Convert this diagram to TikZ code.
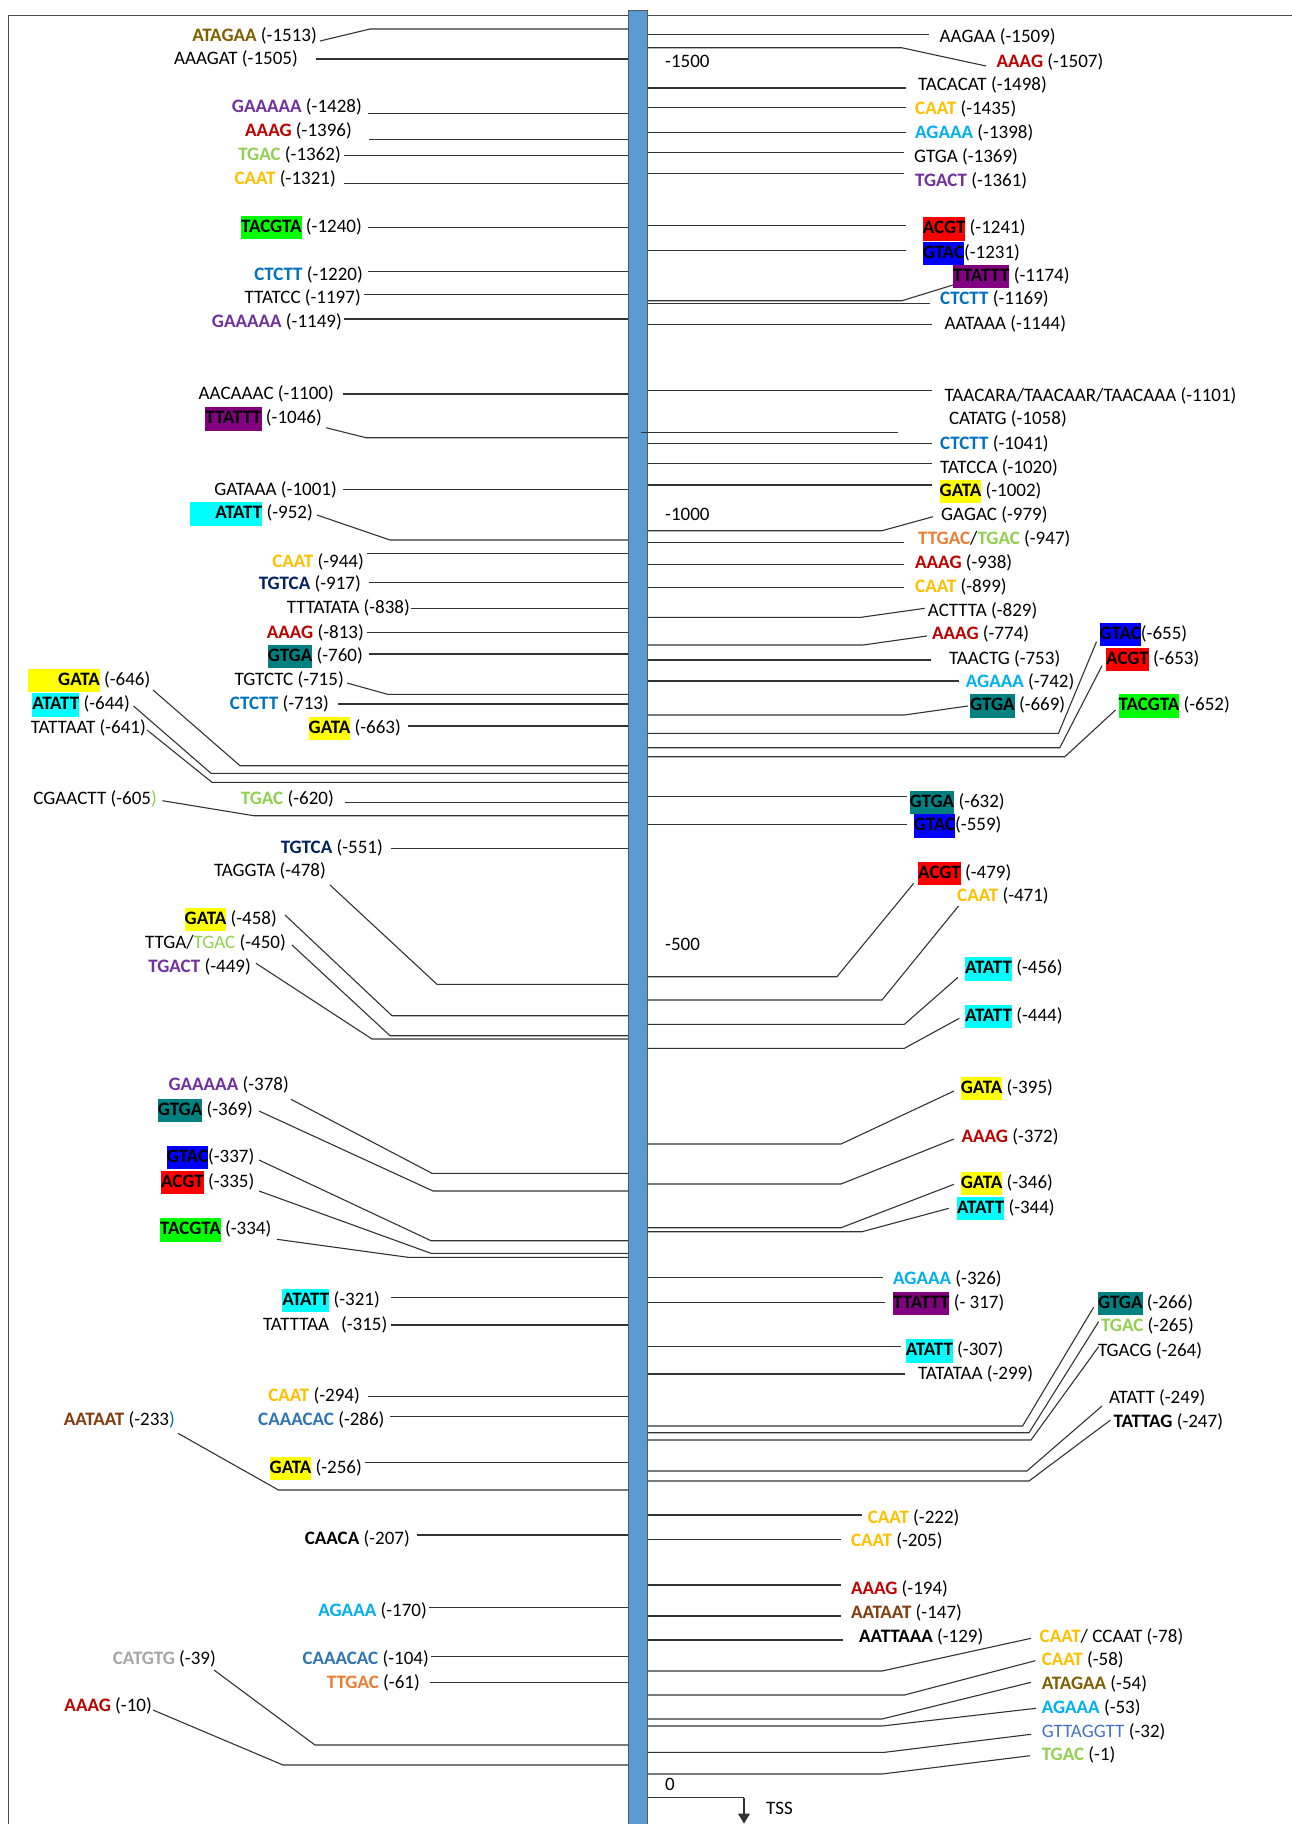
\documentclass[tikz,border=0pt]{standalone}
\usepackage{fontspec}
\setmainfont{Carlito}
\usetikzlibrary{arrows.meta}
\definecolor{cOlive}{RGB}{127,96,0}
\definecolor{cPurp}{RGB}{112,48,160}
\definecolor{cRed}{RGB}{192,0,0}
\definecolor{cLGreen}{RGB}{146,208,80}
\definecolor{cGold}{RGB}{255,192,0}
\definecolor{cBlue}{RGB}{0,112,192}
\definecolor{cNavy}{RGB}{0,32,96}
\definecolor{cLBlue}{RGB}{0,176,240}
\definecolor{cOrange}{RGB}{237,125,49}
\definecolor{cGray}{RGB}{166,166,166}
\definecolor{cBlueTwo}{RGB}{46,117,182}
\definecolor{cBrown}{RGB}{132,60,12}
\definecolor{cCorn}{RGB}{68,114,196}
\definecolor{hGreen}{RGB}{0,255,0}
\definecolor{hRed}{RGB}{255,0,0}
\definecolor{hBlue}{RGB}{0,0,255}
\definecolor{hPurple}{RGB}{128,0,128}
\definecolor{hTeal}{RGB}{0,128,128}
\definecolor{hYellow}{RGB}{255,255,0}
\definecolor{hCyan}{RGB}{0,255,255}
\definecolor{barBlue}{RGB}{91,155,213}
\newcommand\mot[2]{\textcolor{#1}{\textbf{#2}}}
\newcommand\hlbox[2]{{\setlength{\fboxsep}{0pt}\colorbox{#1}{\strut\textbf{#2}}}}
\newcommand\lblS[6]{\node[lab,anchor=east] (#1) at (#2,#3) {#4};
  \coordinate (#1s) at (#5,#6);
  \draw[conn] (#1s) -- (#1s -| bar.west);}
\newcommand\lblL[8]{\node[lab,anchor=east] (#1) at (#2,#3) {#4};
  \coordinate (#1s) at (#5,#6); \coordinate (#1b) at (#7,#8);
  \draw[conn] (#1s) -- (#1b) -- (#1b -| bar.west);}
\newcommand\rblS[6]{\node[lab,anchor=west] (#1) at (#2,#3) {#4};
  \coordinate (#1s) at (#5,#6);
  \draw[conn] (#1s -| bar.east) -- (#1s);}
\newcommand\rblL[8]{\node[lab,anchor=west] (#1) at (#2,#3) {#4};
  \coordinate (#1s) at (#5,#6); \coordinate (#1b) at (#7,#8);
  \draw[conn] (#1b -| bar.east) -- (#1b) -- (#1s);}
\begin{document}
\begin{tikzpicture}[x=1pt,y=-1pt,
  lab/.style={inner sep=0pt, font=\fontsize{19}{23.5}\selectfont, execute at begin node=\strut},
  conn/.style={draw=black!80, line width=1.1pt},
  frame/.style={draw=gray!60!black, line width=1pt}]
\useasboundingbox (0,0) rectangle (1292,1824);
\fill[white] (0,0) rectangle (1292,1824);
\draw[frame] (8,1824) -- (8,15) -- (1292,15);
\node[draw=gray!70!black, line width=0.8pt, fill=barBlue, minimum width=19pt, minimum height=1814pt, inner sep=0pt, anchor=north west] (bar) at (628,10) {};
% scale labels
\node[lab,anchor=west] (s1500) at (665,62.7) {-1500};
\node[lab,anchor=west] (s1000) at (665,516) {-1000};
\node[lab,anchor=west] (s500) at (665,945.7) {-500};
\node[lab,anchor=west] (s0) at (665,1786) {0};
% left side
\lblL{L1}{317}{36.7}{\mot{cOlive}{ATAGAA} (-1513)}{320}{41}{370}{29}
\lblS{L2}{298}{60}{AAAGAT (-1505)}{316}{59}
\lblS{L3}{362}{108}{\mot{cPurp}{GAAAAA} (-1428)}{368}{113.7}
\lblS{L4}{352}{132}{\mot{cRed}{AAAG} (-1396)}{369}{139.3}
\lblS{L5}{341}{156}{\mot{cLGreen}{TGAC} (-1362)}{344}{155.7}
\lblS{L6}{336}{180}{\mot{cGold}{CAAT} (-1321)}{344}{183.3}
\lblS{L7}{362}{227.7}{\hlbox{hGreen}{TACGTA} (-1240)}{368}{227.7}
\lblS{L8}{363}{276}{\mot{cBlue}{CTCTT} (-1220)}{368}{271.3}
\lblS{L9}{361}{299}{TTATCC (-1197)}{364}{294.7}
\lblS{L10}{342}{322.7}{\mot{cPurp}{GAAAAA} (-1149)}{344}{319}
\lblS{L11}{334}{394.7}{AACAAAC (-1100)}{343}{394}
\lblL{L12}{322}{419}{\hlbox{hPurple}{TTATTT} (-1046)}{326}{427.7}{366}{437.7}
\lblS{L13}{337}{490.7}{GATAAA (-1001)}{343}{489.3}
\lblL{L14}{313}{514}{\hlbox{hCyan}{\hspace{25pt}ATATT} (-952)}{317}{515}{390}{540}
\lblS{L15}{364}{562.3}{\mot{cGold}{CAAT} (-944)}{367}{553.3}
\lblS{L16}{361}{585}{\mot{cNavy}{TGTCA} (-917)}{369}{582.7}
\lblS{L17}{410}{609}{TTTATATA (-838)}{411}{608.3}
\lblS{L18}{364}{633.3}{\mot{cRed}{AAAG} (-813)}{367}{632.3}
\lblS{L19}{363}{656.7}{\hlbox{hTeal}{GTGA} (-760)}{369}{654}
\lblL{L20}{344}{680.7}{TGTCTC (-715)}{347}{683}{387.6}{694.3}
\lblS{L21}{329}{705}{\mot{cBlue}{CTCTT} (-713)}{338}{704}
\lblS{L22}{401}{728.3}{\hlbox{hYellow}{GATA} (-663)}{408}{726}
\lblL{L23}{150.5}{680.7}{\hlbox{hYellow}{\hspace{30pt}GATA} (-646)}{153}{690}{240}{765.7}
\lblL{L24}{130}{705}{\hlbox{hCyan}{ATATT} (-644)}{133.5}{706}{211}{773.3}
\lblL{L25}{146}{729}{TATTAAT (-641)}{147}{730}{212}{782.3}
\lblL{L26}{157}{800}{CGAACTT (-605\textcolor{cLGreen}{)}}{162.5}{800.7}{253.7}{815.7}
\lblS{L27}{334}{800}{\mot{cLGreen}{TGAC} (-620)}{345}{802.7}
\lblS{L28}{383}{848.3}{\mot{cNavy}{TGTCA} (-551)}{391}{848.3}
\lblL{L29}{326}{871.7}{TAGGTA (-478)}{330}{885}{437}{984.3}
\lblL{L30}{277}{919.3}{\hlbox{hYellow}{GATA} (-458)}{285}{915}{392}{1015.7}
\lblL{L31}{286}{943.3}{TTGA/\textcolor{cLGreen}{TGAC} (-450)}{292}{945}{390}{1035.7}
\lblL{L32}{251}{967.7}{\mot{cPurp}{TGACT} (-449)}{256}{963.3}{372}{1039}
\lblL{L33}{289}{1086}{\mot{cPurp}{GAAAAA} (-378)}{291}{1099.3}{432}{1173.3}
\lblL{L34}{253}{1110.7}{\hlbox{hTeal}{GTGA} (-369)}{259}{1111}{433}{1191}
\lblL{L35}{254.5}{1157.7}{\hlbox{hBlue}{GTAC}(-337)}{259}{1160}{431}{1240.7}
\lblL{L36}{254.5}{1182.3}{\hlbox{hRed}{ACGT} (-335)}{259}{1191}{431}{1253.3}
\lblL{L37}{271.5}{1230}{\hlbox{hGreen}{TACGTA} (-334)}{277}{1239.3}{408}{1257.3}
\lblS{L38}{380}{1300.7}{\hlbox{hCyan}{ATATT} (-321)}{391}{1297.7}
\lblS{L39}{387.6}{1325.7}{TATTTAA\hspace{12pt}(-315)}{391}{1325}
\lblS{L40}{360}{1396.7}{\mot{cGold}{CAAT} (-294)}{367.7}{1396.7}
\lblS{L41}{384.7}{1420.7}{\mot{cBlueTwo}{CAAACAC} (-286)}{389.6}{1416.7}
\lblL{L42}{175}{1420.7}{\mot{cBrown}{AATAAT} (-233\textcolor{cBlue}{)}}{178}{1433.3}{278.5}{1490}
\lblS{L43}{362}{1468.3}{\hlbox{hYellow}{GATA} (-256)}{364.8}{1462.7}
\lblS{L44}{410}{1540}{\textbf{CAACA} (-207)}{416.6}{1535}
\lblS{L45}{427}{1611.7}{\mot{cLBlue}{AGAAA} (-170)}{429}{1607.3}
\lblS{L46}{429}{1660}{\mot{cBlueTwo}{CAAACAC} (-104)}{431}{1656.7}
\lblS{L47}{420}{1683.3}{\mot{cOrange}{TTGAC} (-61)}{430}{1682.3}
\lblL{L48}{216}{1660}{\mot{cGray}{CATGTG} (-39)}{214}{1670}{315}{1745}
\lblL{L49}{152}{1706.7}{\mot{cRed}{AAAG} (-10)}{153}{1710}{283}{1765}
% right side
\rblS{R1}{939.5}{37.3}{AAGAA (-1509)}{928.5}{34.3}
\rblL{R2}{996.5}{62.3}{\mot{cRed}{AAAG} (-1507)}{986}{66}{901.5}{47.7}
\rblS{R3}{918}{86}{TACACAT (-1498)}{905.7}{88}
\rblS{R4}{915}{110}{\mot{cGold}{CAAT} (-1435)}{905.7}{107.7}
\rblS{R5}{915}{134}{\mot{cLBlue}{AGAAA} (-1398)}{905.7}{132.3}
\rblS{R6}{914}{157.3}{GTGA (-1369)}{904.4}{152.3}
\rblS{R7}{915}{181.7}{\mot{cPurp}{TGACT} (-1361)}{904.4}{173.3}
\rblS{R8}{922.6}{229}{\hlbox{hRed}{ACGT} (-1241)}{905.7}{225.7}
\rblS{R9}{922.6}{253.3}{\hlbox{hBlue}{GTAC}(-1231)}{905.7}{250.7}
\rblL{R10}{953}{276.7}{\hlbox{hPurple}{TTATTT} (-1174)}{953}{285}{902}{300.7}
\rblS{R11}{940}{299.3}{\mot{cBlue}{CTCTT} (-1169)}{929.8}{303.3}
\rblS{R12}{944.5}{325}{AATAAA (-1144)}{932}{324.3}
\rblS{R13}{944.5}{396.7}{TAACARA/TAACAAR/TAACAAA (-1101)}{932}{390.3}
\node[lab,anchor=west] (R14) at (948.8,420) {CATATG (-1058)};
\coordinate (R14s) at (898,432.7);
\draw[conn] ([xshift=-7pt]bar.east |- R14s) -- (R14s);
\rblS{R15}{940}{444.3}{\mot{cBlue}{CTCTT} (-1041)}{932}{443.3}
\rblS{R16}{940}{468.3}{TATCCA (-1020)}{932}{463.3}
\rblS{R17}{939.5}{491.7}{\hlbox{hYellow}{GATA} (-1002)}{932}{485}
\rblL{R18}{941}{516}{GAGAC (-979)}{933}{516.7}{882}{530.7}
\rblS{R19}{918}{539.3}{\mot{cOrange}{TTGAC}/\mot{cLGreen}{TGAC} (-947)}{904.4}{542.3}
\rblS{R20}{915}{563.3}{\mot{cRed}{AAAG} (-938)}{904.4}{564.3}
\rblS{R21}{915}{587.3}{\mot{cGold}{CAAT} (-899)}{904.4}{587.7}
\rblL{R22}{927.7}{611.7}{ACTTTA (-829)}{924.7}{608.3}{861}{617.3}
\rblL{R23}{932}{635}{\mot{cRed}{AAAG} (-774)}{926.8}{636}{863}{645}
\rblS{R24}{949}{659.3}{TAACTG (-753)}{931}{660}
\rblS{R25}{965.7}{682.7}{\mot{cLBlue}{AGAAA} (-742)}{959}{681}
\rblL{R26}{970}{706}{\hlbox{hTeal}{GTGA} (-669)}{967.8}{706}{904.4}{715}
\rblL{R27}{1099.5}{634.3}{\hlbox{hBlue}{GTAC}(-655)}{1096.5}{641.7}{1058.5}{733.3}
\rblL{R28}{1106}{659.3}{\hlbox{hRed}{ACGT} (-653)}{1102}{665.7}{1059.8}{747.7}
\rblL{R29}{1118.5}{706}{\hlbox{hGreen}{TACGTA} (-652)}{1115.5}{710}{1064.9}{756.7}
\rblS{R30}{909.5}{802.3}{\hlbox{hTeal}{GTGA} (-632)}{906.5}{796.7}
\rblS{R31}{913.7}{826}{\hlbox{hBlue}{GTAC}(-559)}{906.5}{824.3}
\rblL{R32}{918}{873.3}{\hlbox{hRed}{ACGT} (-479)}{913.7}{883.3}{836.9}{976.7}
\rblL{R33}{957}{896.7}{\mot{cGold}{CAAT} (-471)}{958.5}{906}{882}{1000}
\rblL{R34}{964.8}{969}{\hlbox{hCyan}{ATATT} (-456)}{958}{977.3}{904.4}{1024.3}
\rblL{R35}{964.8}{1016.7}{\hlbox{hCyan}{ATATT} (-444)}{959.3}{1018.3}{904.4}{1048.3}
\rblL{R36}{960.6}{1088.3}{\hlbox{hYellow}{GATA} (-395)}{954}{1091}{841}{1144}
\rblL{R37}{961.4}{1137.3}{\mot{cRed}{AAAG} (-372)}{954}{1139}{841}{1184}
\rblL{R38}{960.6}{1183.3}{\hlbox{hYellow}{GATA} (-346)}{954}{1184.3}{841}{1227.7}
\rblL{R39}{957}{1208.3}{\hlbox{hCyan}{ATATT} (-344)}{948.8}{1208.3}{862}{1231.7}
\rblS{R40}{893}{1280}{\mot{cLBlue}{AGAAA} (-326)}{882.5}{1277.3}
\rblS{R41}{893}{1303.3}{\hlbox{hPurple}{TTATTT} (- 317)}{884.6}{1302.7}
\rblS{R42}{905.7}{1351}{\hlbox{hCyan}{ATATT} (-307)}{901}{1346.7}
\rblS{R43}{918}{1374.3}{TATATAA (-299)}{905}{1374}
\rblL{R44}{1097.8}{1303.3}{\hlbox{hTeal}{GTGA} (-266)}{1093.6}{1307.3}{1022.6}{1426}
\rblL{R45}{1100.8}{1326.7}{\mot{cLGreen}{TGAC} (-265)}{1098.6}{1321.7}{1029}{1432.7}
\rblL{R46}{1097.8}{1351.7}{TGACG (-264)}{1098.6}{1346.7}{1031}{1440}
\rblL{R47}{1109}{1398.3}{ATATT (-249)}{1102}{1406}{1026.9}{1471}
\rblL{R48}{1113.4}{1422.7}{\textbf{TATTAG} (-247)}{1110.5}{1420}{1029}{1481}
\rblS{R49}{867.7}{1518.3}{\mot{cGold}{CAAT} (-222)}{862}{1515}
\rblS{R50}{850.8}{1541.7}{\mot{cGold}{CAAT} (-205)}{841}{1539.3}
\rblS{R51}{850.8}{1589.3}{\mot{cRed}{AAAG} (-194)}{841}{1585}
\rblS{R52}{850.8}{1613.3}{\mot{cBrown}{AATAAT} (-147)}{841}{1616}
\rblS{R53}{859}{1637.7}{\textbf{AATTAAA} (-129)}{843}{1640}
\rblL{R54}{1039.5}{1637.7}{\mot{cGold}{CAAT}/ CCAAT (-78)}{1031}{1638.3}{882}{1671}
\rblL{R55}{1041.6}{1661}{\mot{cGold}{CAAT} (-58)}{1035.3}{1660.7}{904.4}{1695}
\rblL{R56}{1041.6}{1684.3}{\mot{cOlive}{ATAGAA} (-54)}{1031}{1682.3}{882}{1719}
\rblL{R57}{1041.6}{1709}{\mot{cLBlue}{AGAAA} (-53)}{1036}{1708.3}{882}{1726}
\rblL{R58}{1041.6}{1732.3}{\textcolor{cCorn}{GTTAGGTT} (-32)}{1031}{1734.3}{884.6}{1752.3}
\rblL{R59}{1041.6}{1756}{\mot{cLGreen}{TGAC} (-1)}{1030}{1755.7}{882}{1774}
% TSS
\coordinate (tssk) at (744,1797.7);
\coordinate (tsse) at (744,1823.5);
\draw[conn] (tssk -| bar.east) -- (tssk);
\draw[conn, -{Triangle[width=12pt,length=10pt]}] (tssk) -- (tsse);
\node[lab,anchor=west] (tss) at (766,1810) {TSS};
\end{tikzpicture}
\end{document}
